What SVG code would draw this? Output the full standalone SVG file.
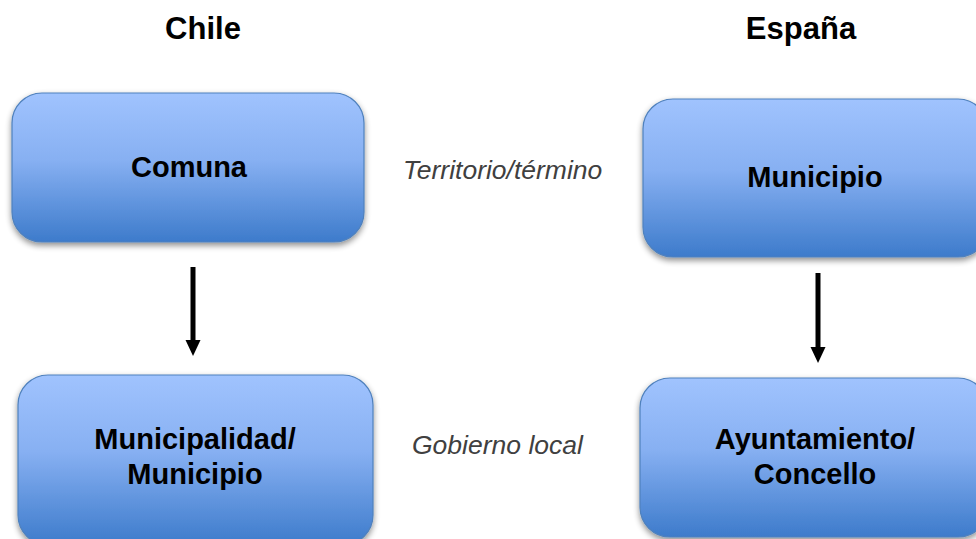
<svg xmlns="http://www.w3.org/2000/svg" width="976" height="539" viewBox="0 0 976 539">
<defs>
<linearGradient id="g" x1="0" y1="0" x2="0" y2="1">
<stop offset="0" stop-color="#a0c3fe"/>
<stop offset="0.45" stop-color="#87b0f2"/>
<stop offset="1" stop-color="#3d7bcb"/>
</linearGradient>
<filter id="sh" x="-10%" y="-10%" width="120%" height="130%">
<feGaussianBlur in="SourceAlpha" stdDeviation="3"/>
<feOffset dx="0" dy="3" result="b"/>
<feComponentTransfer><feFuncA type="linear" slope="0.45"/></feComponentTransfer>
<feMerge><feMergeNode/><feMergeNode in="SourceGraphic"/></feMerge>
</filter>
</defs>
<style>
.box{fill:url(#g);stroke:#4f81bd;stroke-width:1.2;filter:url(#sh)}
.t{font-family:"Liberation Sans",Arial,sans-serif;font-weight:bold;font-size:29px;fill:#000;text-anchor:middle}
.h{font-size:31px}
.it{font-family:"Liberation Sans",Arial,sans-serif;font-style:italic;font-size:26.5px;fill:#404040}
.arr{stroke:#000;stroke-width:5;fill:none}
.head{fill:#000}
</style>
<rect width="976" height="539" fill="#fff"/>
<text class="t h" x="203" y="39">Chile</text>
<text class="t h" x="801" y="39">España</text>
<g id="comuna">
<rect class="box" x="12" y="93" width="352" height="149" rx="30"/>
<text class="t" x="189" y="177">Comuna</text>
</g>
<g id="municipio-es">
<rect class="box" x="643" y="99" width="345" height="158" rx="30"/>
<text class="t" x="815" y="187">Municipio</text>
</g>
<g id="municipalidad">
<rect class="box" x="18" y="375" width="355" height="170" rx="30"/>
<text class="t" x="195" y="449">Municipalidad/</text>
<text class="t" x="195" y="484">Municipio</text>
</g>
<g id="ayuntamiento">
<rect class="box" x="640" y="378" width="348" height="159" rx="30"/>
<text class="t" x="815" y="449">Ayuntamiento/</text>
<text class="t" x="815" y="484">Concello</text>
</g>
<g id="labels">
<text class="it" x="403" y="179">Territorio/término</text>
<text class="it" x="412" y="454">Gobierno local</text>
</g>
<g id="connectors">
<line class="arr" x1="193" y1="267" x2="193" y2="342"/>
<polygon class="head" points="185.5,340 200.5,340 193,356"/>
<line class="arr" x1="818" y1="273" x2="818" y2="349"/>
<polygon class="head" points="810.5,347 825.5,347 818,363"/>
</g>
</svg>
